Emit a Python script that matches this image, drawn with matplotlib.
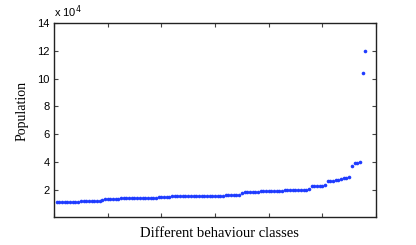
import numpy as np
import matplotlib
matplotlib.use("Agg")
import matplotlib.pyplot as plt

# Population per behaviour class (sorted), values in units of 1e4
seg1 = [1.12, 1.12, 1.13, 1.13, 1.14, 1.15, 1.16, 1.17, 1.18, 1.19,
        1.20, 1.21, 1.22, 1.23, 1.24, 1.25, 1.26, 1.27]
seg2 = [1.35, 1.36, 1.37, 1.38, 1.39, 1.40]
seg3 = [1.43, 1.43, 1.44, 1.44, 1.44, 1.45, 1.45, 1.45, 1.46, 1.46,
        1.46, 1.47, 1.47, 1.47, 1.48, 1.48, 1.49, 1.49, 1.50]
seg4 = [1.55, 1.55, 1.56, 1.56, 1.56, 1.57, 1.57, 1.57, 1.58, 1.58,
        1.58, 1.59, 1.59, 1.59, 1.60, 1.60, 1.60, 1.61, 1.61, 1.61,
        1.62, 1.62, 1.63, 1.63, 1.64, 1.64]
seg5 = [1.83, 1.84, 1.84, 1.85, 1.85, 1.86, 1.86]
seg6 = [1.93, 1.94, 1.94, 1.95, 1.95, 1.96, 1.96, 1.97, 1.97, 1.98,
        1.98, 1.99, 1.99, 2.00, 2.01, 2.02, 2.03, 2.04, 2.05]
seg7 = [2.28, 2.29, 2.30, 2.31, 2.32, 2.34]
seg8 = [2.64, 2.66, 2.69, 2.72, 2.76, 2.80, 2.84, 2.89, 2.95]
seg9 = [3.70, 3.95, 3.97, 4.00, 10.43, 11.98]

population = np.array(seg1 + seg2 + seg3 + seg4 + seg5 + seg6 + seg7 + seg8 + seg9) * 1e4
classes = np.arange(1, len(population) + 1)

xticks = [0, 20, 40, 60, 80, 100, 120]
yticks = [20000, 40000, 60000, 80000, 100000, 120000, 140000]
yticklabels = ["2", "4", "6", "8", "10", "12", "14"]

fig = plt.figure(figsize=(4.16, 2.45), dpi=100)
ax = fig.add_axes([0.1298, 0.1155, 0.774, 0.7918])

ax.plot(classes, population, linestyle="none", marker="o", markersize=2.6,
        color="#1f3cff", markeredgewidth=0)

ax.set_xlim(0, 120)
ax.set_ylim(1000, 140000)
ax.set_xticks(xticks)
ax.set_xticklabels([])
ax.set_yticks(yticks)
ax.set_yticklabels(yticklabels, family=["Liberation Sans", "DejaVu Sans"], fontsize=8)
ax.tick_params(direction="in", top=True, right=True, length=3, width=0.8,
               color="#444444", pad=3)
for s in ax.spines.values():
    s.set_linewidth(1.0)
    s.set_color("#222222")

ax.set_xlabel("Different behaviour classes", family=["Liberation Serif", "DejaVu Serif"],
              fontsize=10.5)
ax.xaxis.set_label_coords(0.515, -0.055, transform=ax.transAxes)
ax.xaxis.label.set_va("top")
ax.set_ylabel("Population", family=["Liberation Serif", "DejaVu Serif"],
              fontsize=10)
ax.yaxis.set_label_coords(-0.078, 0.544)
ax.text(0.0, 1.015, r"x 10$^4$", transform=ax.transAxes, ha="left", va="bottom",
        family=["Liberation Sans", "DejaVu Sans"], fontsize=8)

fig.savefig("out.png", dpi=100)
